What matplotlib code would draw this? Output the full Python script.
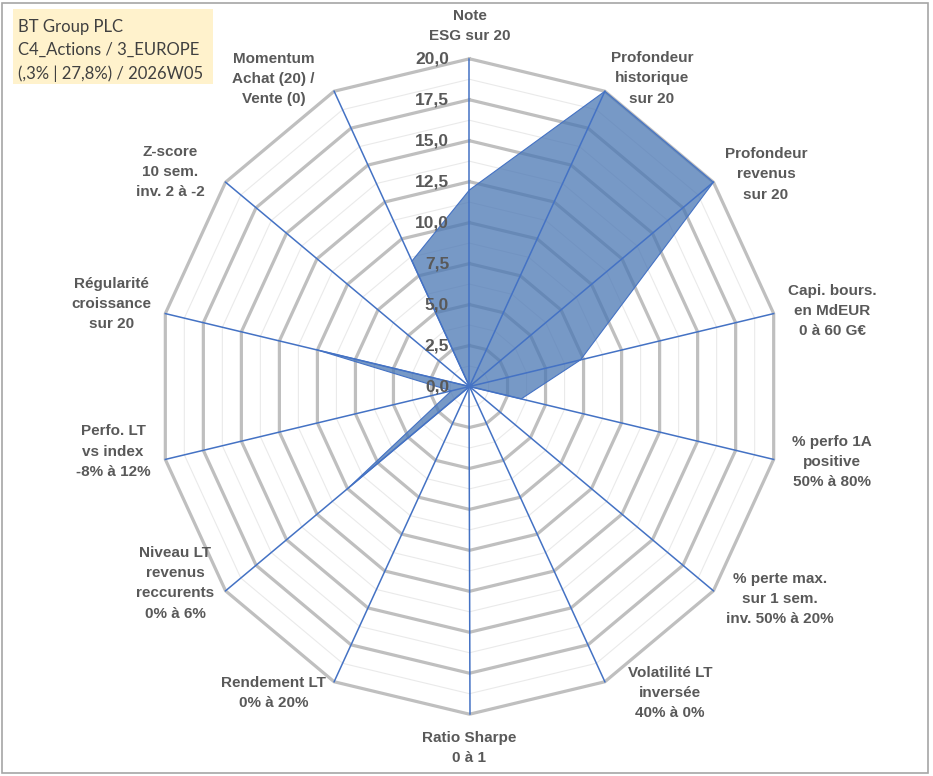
import numpy as np
import matplotlib
matplotlib.use('Agg')
import matplotlib.pyplot as plt
from matplotlib.patches import Rectangle, Polygon

# chart data
categories = [
    "Note\nESG sur 20",
    "Profondeur\nhistorique\nsur 20",
    "Profondeur\nrevenus\nsur 20",
    "Capi. bours.\nen MdEUR\n0 à 60 G€",
    "% perfo 1A\npositive\n50% à 80%",
    "% perte max.\nsur 1 sem.\ninv. 50% à 20%",
    "Volatilité LT\ninversée\n40% à 0%",
    "Ratio Sharpe\n0 à 1",
    "Rendement LT\n0% à 20%",
    "Niveau LT\nrevenus\nreccurents\n0% à 6%",
    "Perfo. LT\nvs index\n-8% à 12%",
    "Régularité\ncroissance\nsur 20",
    "Z-score\n10 sem.\ninv. 2 à -2",
    "Momentum\nAchat (20) /\nVente (0)",
]
values = [12.0, 20.0, 20.0, 7.3, 3.4, 0.0, 0.0, 0.0, 0.0, 10.0, 1.2, 10.0, 0.0, 8.5]
ticks = [0.0, 2.5, 5.0, 7.5, 10.0, 12.5, 15.0, 17.5, 20.0]
title_lines = ["BT Group PLC", "C4_Actions / 3_EUROPE", "(,3% | 27,8%) / 2026W05"]

# label centres (data units of the chart axes)
label_xy = [(0, 22.0), (11.7, 18.8), (19.0, 12.95), (23.25, 4.62), (23.25, -4.62),
            (19.9, -12.97), (12.85, -18.7), (0, -22.06), (-12.55, -18.7),
            (-18.88, -12.0), (-22.85, -3.97), (-22.95, 5.04), (-19.2, 13.1),
            (-12.55, 18.77)]

W, H = 933, 776
fig = plt.figure(figsize=(W / 100, H / 100), dpi=100)
ax = fig.add_axes([0, 0, 1, 1])
ax.axis('off')
# the original is slightly squeezed horizontally
cx, cy = 469.5, 386.5
sx, sy = 15.6, 16.385
ax.set_xlim(-cx / sx, (W - cx) / sx)
ax.set_ylim(-(H - cy) / sy, cy / sy)

n = len(categories)
theta = np.arange(n) * 2 * np.pi / n
ux, uy = np.sin(theta), np.cos(theta)

# grid rings
rmax = ticks[-1]
for r in np.arange(1.25, rmax + 0.01, 1.25):
    major = abs(r / 2.5 - round(r / 2.5)) < 1e-6
    xs = np.append(r * ux, r * ux[0])
    ys = np.append(r * uy, r * uy[0])
    if major:
        ax.plot(xs, ys, color='#BFBFBF', lw=2.3, zorder=2, solid_joinstyle='miter')
    else:
        ax.plot(xs, ys, color='#EAEAEA', lw=0.8, zorder=1)

# data polygon
vals = np.array(values)
poly = Polygon(np.column_stack([vals * ux, vals * uy]), closed=True,
               facecolor='#4A77B4', alpha=0.75, edgecolor='none', zorder=3)
ax.add_patch(poly)
ax.plot(np.append(vals * ux, vals[0] * ux[0]), np.append(vals * uy, vals[0] * uy[0]),
        color='#4472C4', lw=0.8, zorder=4)

# spokes
for i in range(n):
    ax.plot([0, rmax * ux[i]], [0, rmax * uy[i]], color='#4472C4', lw=1.1, zorder=5)

# radial tick labels
for t in ticks:
    ax.text(-1.31, t, ('%.1f' % t).replace('.', ','), ha='right', va='center',
            fontsize=12.5, fontweight='bold', color='#595959', family='Liberation Sans',
            zorder=6)

# category labels
for lab, (lx, ly) in zip(categories, label_xy):
    ax.text(lx, ly, lab, ha='center', va='center', multialignment='center',
            fontsize=11, fontweight='bold', color='#595959', family='Liberation Sans',
            linespacing=1.57, zorder=6)

# title box
fig.patches.append(Rectangle((12.7 / W, 1 - 84.3 / H), 200.3 / W, 75 / H,
                             transform=fig.transFigure, facecolor='#FFF2CC',
                             edgecolor='none', zorder=0))
fig.text(18.3 / W, 1 - 50.2 / H, "\n".join(title_lines), ha='left', va='center',
         fontsize=12, color='#404040', family='Lato', linespacing=1.55)

# outer border
fig.patches.append(Rectangle((2 / W, 3 / H), 926 / W, 770 / H, transform=fig.transFigure,
                             facecolor='none', edgecolor='#A6A6A6', lw=1.2))

fig.savefig('out.png', dpi=100)
